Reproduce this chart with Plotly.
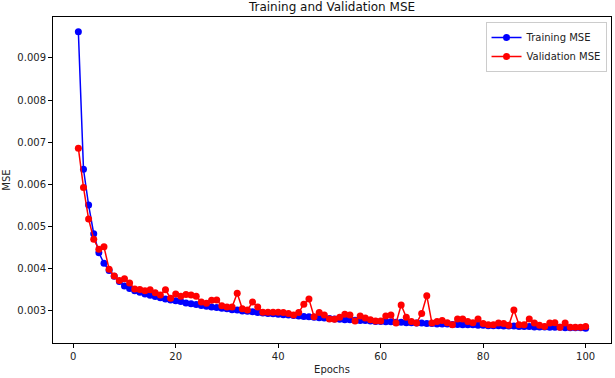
import plotly.graph_objects as go

epochs = list(range(1, 101))

train_mse = [
    0.00962, 0.00636, 0.00551, 0.00483, 0.00438, 0.00413, 0.00396, 0.00382, 0.00370, 0.00359,
    0.00353, 0.00348, 0.00344, 0.00340, 0.00337, 0.00334, 0.00331, 0.00328, 0.00326, 0.00324,
    0.00322, 0.00319, 0.00317, 0.00315, 0.00313, 0.00311, 0.00309, 0.00308, 0.00306, 0.00305,
    0.00303, 0.00302, 0.00300, 0.00299, 0.00298, 0.00296, 0.00295, 0.00294, 0.00293, 0.00292,
    0.00291, 0.00290, 0.00289, 0.00288, 0.00287, 0.00286, 0.00285, 0.00284, 0.00283, 0.00282,
    0.00281, 0.00280, 0.00279, 0.00279, 0.00278, 0.00277, 0.00277, 0.00276, 0.00275, 0.00275,
    0.00274, 0.00274, 0.00273, 0.00273, 0.00272, 0.00272, 0.00271, 0.00271, 0.00270, 0.00270,
    0.00269, 0.00269, 0.00269, 0.00268, 0.00268, 0.00267, 0.00267, 0.00267, 0.00266, 0.00266,
    0.00265, 0.00265, 0.00265, 0.00264, 0.00264, 0.00264, 0.00263, 0.00263, 0.00263, 0.00262,
    0.00262, 0.00262, 0.00261, 0.00261, 0.00261, 0.00260, 0.00260, 0.00260, 0.00260, 0.00259,
]

val_mse = [
    0.00686, 0.00593, 0.00518, 0.00470, 0.00446, 0.00452, 0.00399, 0.00383, 0.00372, 0.00376,
    0.00366, 0.00352, 0.00351, 0.00348, 0.00350, 0.00343, 0.00338, 0.00350, 0.00330, 0.00340,
    0.00335, 0.00339, 0.00338, 0.00335, 0.00321, 0.00318, 0.00325, 0.00326, 0.00312, 0.00309,
    0.00309, 0.00342, 0.00305, 0.00302, 0.00321, 0.00309, 0.00297, 0.00297, 0.00297, 0.00297,
    0.00296, 0.00294, 0.00290, 0.00296, 0.00316, 0.00328, 0.00286, 0.00296, 0.00290, 0.00281,
    0.00280, 0.00285, 0.00292, 0.00290, 0.00276, 0.00288, 0.00283, 0.00279, 0.00276, 0.00276,
    0.00288, 0.00290, 0.00271, 0.00314, 0.00285, 0.00275, 0.00271, 0.00294, 0.00336, 0.00271,
    0.00275, 0.00277, 0.00272, 0.00267, 0.00281, 0.00281, 0.00275, 0.00272, 0.00281, 0.00270,
    0.00267, 0.00267, 0.00271, 0.00270, 0.00266, 0.00302, 0.00267, 0.00267, 0.00281, 0.00271,
    0.00266, 0.00263, 0.00271, 0.00272, 0.00261, 0.00271, 0.00261, 0.00261, 0.00261, 0.00263,
]

y_ticks = [0.003, 0.004, 0.005, 0.006, 0.007, 0.008, 0.009]
x_ticks = [0, 20, 40, 60, 80, 100]

font = "DejaVu Sans"

fig = go.Figure()
fig.add_trace(go.Scatter(
    x=epochs, y=train_mse, mode="lines+markers", name="Training MSE",
    line=dict(color="#0000ff", width=1.5),
    marker=dict(color="#0000ff", size=7),
))
fig.add_trace(go.Scatter(
    x=epochs, y=val_mse, mode="lines+markers", name="Validation MSE",
    line=dict(color="#ff0000", width=1.5),
    marker=dict(color="#ff0000", size=7),
))

ymin = min(min(train_mse), min(val_mse))
ymax = max(max(train_mse), max(val_mse))
ypad = (ymax - ymin) * 0.05
xpad = (max(epochs) - min(epochs)) * 0.05

axis_common = dict(
    showline=True, linecolor="black", linewidth=1, mirror=True,
    ticks="outside", ticklen=4, tickcolor="black", tickwidth=1,
    showgrid=False, zeroline=False, automargin=False,
    tickfont=dict(family=font, size=10, color="#222"),
)

fig.update_layout(
    width=615, height=378,
    margin=dict(l=53, r=4, t=17, b=35),
    paper_bgcolor="white", plot_bgcolor="white",
    title=dict(text="Training and Validation MSE", x=(53 + 611) / 2 / 615, xanchor="center",
               y=1 - 7 / 378, yanchor="middle",
               font=dict(family=font, size=12, color="#111")),
    showlegend=True,
    legend=dict(x=0.992, y=0.985, xanchor="right", yanchor="top",
                bgcolor="rgba(255,255,255,0.8)", bordercolor="#cccccc", borderwidth=1,
                font=dict(family=font, size=10, color="#222"),
                tracegroupgap=0, itemwidth=30),
    xaxis=dict(range=[min(epochs) - xpad, max(epochs) + xpad], tickvals=x_ticks,
               title=dict(text="Epochs", font=dict(family=font, size=10, color="#222"), standoff=4),
               **axis_common),
    yaxis=dict(range=[ymin - ypad, ymax + ypad], tickvals=y_ticks, tickformat=".3f",
               title=dict(text="MSE", font=dict(family=font, size=10, color="#222"), standoff=4),
               **axis_common),
)

fig.write_html("out.html", config={"displayModeBar": False},
               post_script="document.body.style.margin='0px';")
